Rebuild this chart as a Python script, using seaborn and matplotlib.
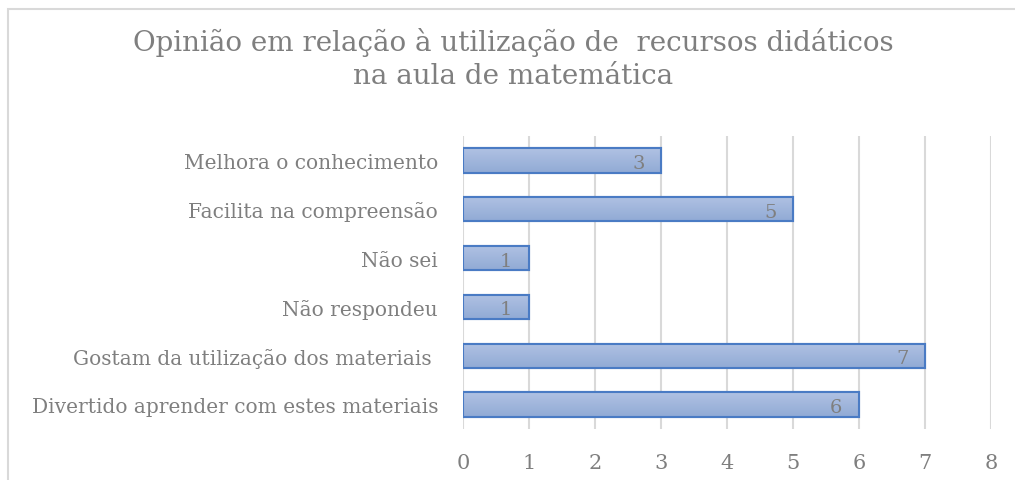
import matplotlib
matplotlib.use("Agg")
import matplotlib.pyplot as plt
import seaborn as sns
import pandas as pd
import numpy as np
from matplotlib.patches import Rectangle
from matplotlib.colors import LinearSegmentedColormap

categories = [
    "Melhora o conhecimento",
    "Facilita na compreensão",
    "Não sei",
    "Não respondeu",
    "Gostam da utilização dos materiais ",
    "Divertido aprender com estes materiais",
]
values = [3, 5, 1, 1, 7, 6]
xticks = [0, 1, 2, 3, 4, 5, 6, 7, 8]
title = "Opinião em relação à utilização de  recursos didáticos\nna aula de matemática"

sns.set_theme(style="white")
plt.rcParams["font.family"] = ["DejaVu Serif", "DejaVu Sans"]

gray = "#7F7F7F"
df = pd.DataFrame({"cat": categories, "val": values})

fig = plt.figure(figsize=(10.15, 4.81), dpi=100)
ax = fig.add_axes([463 / 1015, 1 - 430 / 481, (991 - 463) / 1015, (430 - 137) / 481])

sns.barplot(data=df, x="val", y="cat", orient="h", ax=ax, color="#9FB4DB",
            edgecolor="#4A7BC4", linewidth=1.5, width=0.5, saturation=1)

ax.set_xlim(0, 8)
ylim = ax.get_ylim()

# gradient fill inside each bar
cmap = LinearSegmentedColormap.from_list("grad", ["#B0C2E3", "#91AAD5"])
grad = np.linspace(0, 1, 64).reshape(-1, 1)
for p in ax.patches:
    x0, y0 = p.get_x(), p.get_y()
    w, h = p.get_width(), p.get_height()
    im = ax.imshow(grad, cmap=cmap, aspect="auto", origin="upper",
                   extent=[x0, x0 + w, y0 + h, y0], zorder=p.get_zorder() + 0.1,
                   interpolation="bilinear")
    im.set_clip_path(p)
    edge = Rectangle((x0, y0), w, h, fill=False, edgecolor="#4A7BC4",
                     linewidth=1.5, zorder=p.get_zorder() + 0.2)
    ax.add_patch(edge)

ax.set_xlim(0, 8)
ax.set_ylim(ylim)
ax.set_xticks(xticks)
ax.set_xticklabels([str(t) for t in xticks], fontsize=15, color=gray)
ax.tick_params(axis="y", labelsize=14.5, colors=gray, pad=18, length=0)
ax.tick_params(axis="x", pad=17, length=0)
ax.set_xlabel("")
ax.set_ylabel("")
ax.grid(axis="x", color="#D9D9D9", linewidth=1.5)
ax.set_axisbelow(True)
for s in ax.spines.values():
    s.set_visible(False)

for p, v in zip(ax.patches[:len(values)], values):
    y = p.get_y() + p.get_height() / 2
    ax.text(p.get_x() + p.get_width() - 0.25, y + 0.05, str(v), ha="right",
            va="center", fontsize=14, color=gray, zorder=10)

fig.text(513 / 1015, 1 - 59 / 481, title, ha="center", va="center",
         fontsize=20, color=gray, linespacing=1.3)

fig.patches.append(Rectangle((8 / 1015, -0.1), 1.2, 1 - 10 / 481 + 0.1,
                             transform=fig.transFigure, fill=False,
                             edgecolor="#D9D9D9", linewidth=1.5))

fig.savefig("out.png", dpi=100, facecolor="white")
